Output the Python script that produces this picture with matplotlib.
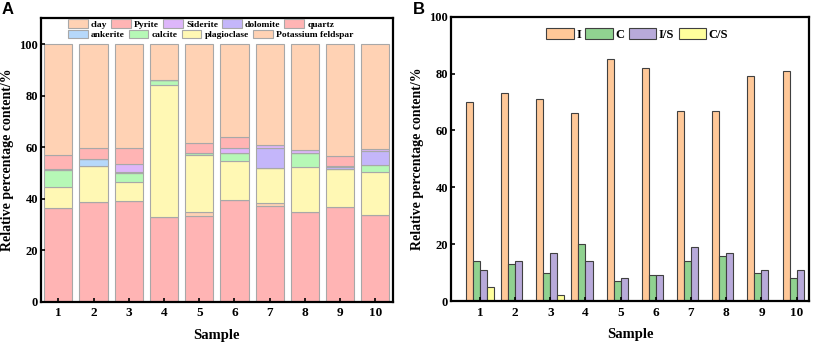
import numpy as np
import matplotlib
matplotlib.use('Agg')
import matplotlib.pyplot as plt
from matplotlib.patches import Patch

plt.rcParams['font.family'] = 'Liberation Serif'
plt.rcParams['font.weight'] = 'bold'

samples = ['1', '2', '3', '4', '5', '6', '7', '8', '9', '10']

# panel A, stacked from bottom to top
quartz = [36.4, 38.8, 38.9, 33.0, 33.2, 39.5, 37.3, 34.7, 36.8, 33.6]
kfeld = [0.0, 0.0, 0.0, 0.0, 1.5, 0.0, 1.1, 0.0, 0.0, 0.0]
plag = [8.3, 13.7, 7.4, 51.1, 22.2, 15.1, 13.4, 17.5, 14.9, 16.7]
calcite = [6.4, 0.0, 3.6, 1.9, 0.8, 3.1, 0.0, 5.5, 0.0, 2.8]
ankerite = [0.0, 2.8, 0.0, 0.0, 0.0, 0.0, 0.0, 0.0, 0.0, 0.0]
dolomite = [0.5, 0.0, 0.5, 0.0, 0.0, 0.0, 7.8, 0.0, 0.4, 5.5]
siderite = [0.0, 0.0, 3.1, 0.0, 0.0, 2.0, 1.4, 1.2, 0.4, 0.7]
pyrite = [5.2, 4.3, 6.1, 0.0, 4.0, 4.4, 0.0, 0.0, 4.1, 0.0]
clay = list(100 - np.array(quartz) - np.array(kfeld) - np.array(plag) - np.array(calcite)
            - np.array(ankerite) - np.array(dolomite) - np.array(siderite) - np.array(pyrite))

# panel B
ill = [70, 73, 71, 66, 85, 82, 67, 67, 79, 81]
chl = [14, 13, 10, 20, 7, 9, 14, 16, 10, 8]
ism = [11, 14, 17, 14, 8, 9, 19, 17, 11, 11]
csm = [5, 0, 2, 0, 0, 0, 0, 0, 0, 0]

c_clay = '#FFD2B4'
c_pink = '#FFB4B4'
c_sid = '#DDB6FA'
c_dol = '#C4B6FA'
c_ank = '#B6D8FA'
c_cal = '#B6F8B6'
c_plag = '#FFF8B4'

fig = plt.figure(figsize=(8.16, 3.43), dpi=100)
ax1 = fig.add_axes([0.0499, 0.1204, 0.4317, 0.8262])
ax2 = fig.add_axes([0.5523, 0.1224, 0.4395, 0.8289])

x = np.arange(1, 11)
layers = [(quartz, c_pink), (kfeld, c_clay), (plag, c_plag), (calcite, c_cal),
          (ankerite, c_ank), (dolomite, c_dol), (siderite, c_sid), (pyrite, c_pink), (clay, c_clay)]
bottom = np.zeros(10)
for vals, col in layers:
    ax1.bar(x, vals, 0.8, bottom=bottom, color=col, edgecolor='#A8A8A8', linewidth=0.8)
    bottom = bottom + np.array(vals)

ax1.set_xlim(0.5, 10.5)
ax1.set_ylim(0, 110)
ax1.set_yticks([0, 20, 40, 60, 80, 100])
ax1.set_xticks(x)
ax1.set_xticklabels(samples)

def leg_handles(items):
    return [Patch(facecolor=c, edgecolor='#A8A8A8', linewidth=0.8, label=l) for l, c in items]

row1 = leg_handles([('clay', c_clay), ('Pyrite', c_pink), ('Siderite', c_sid),
                    ('dolomite', c_dol), ('quartz', c_pink)])
row2 = leg_handles([('ankerite', c_ank), ('calcite', c_cal), ('plagioclase', c_plag),
                    ('Potassium feldspar', c_clay)])
kw = dict(frameon=False, handlelength=2.1, handleheight=1.0,
          handletextpad=0.35, columnspacing=0.4, borderpad=0, borderaxespad=0,
          prop={'weight': 'bold', 'size': 6.8})
leg1 = ax1.legend(handles=row1, ncol=5, loc='upper left', bbox_to_anchor=(0.077, 0.997), **kw)
ax1.add_artist(leg1)
ax1.legend(handles=row2, ncol=4, loc='upper left', bbox_to_anchor=(0.077, 0.959), **kw)

w = 0.2
ekw = dict(edgecolor='#404040', linewidth=0.8)
ax2.bar(x - 1.5 * w, ill, w, color='#FFC898', label='I', **ekw)
ax2.bar(x - 0.5 * w, chl, w, color='#90D290', label='C', **ekw)
ax2.bar(x + 0.5 * w, ism, w, color='#B8AADA', label='I/S', **ekw)
ax2.bar(x + 1.5 * w, csm, w, color='#FFFF9C', label='C/S', **ekw)
ax2.set_xlim(0.17, 10.36)
ax2.set_ylim(0, 100)
ax2.set_yticks([0, 20, 40, 60, 80, 100])
ax2.set_xticks(x)
ax2.set_xticklabels(samples)
ax2.legend(ncol=4, loc='upper center', bbox_to_anchor=(0.52, 0.96), frameon=False,
           handlelength=2.2, handleheight=1.0, handletextpad=0.2, columnspacing=0.35,
           borderpad=0, borderaxespad=0, prop={'weight': 'bold', 'size': 9})

for ax in (ax1, ax2):
    for sp in ax.spines.values():
        sp.set_linewidth(1.6)
    ax.tick_params(axis='x', direction='in', length=3, width=1.2, labelsize=9.5, pad=4)
    ax.tick_params(axis='y', direction='in', length=3, width=1.2, labelsize=9, pad=2)
    for lab in ax.get_xticklabels() + ax.get_yticklabels():
        lab.set_fontweight('bold')
    ax.set_xlabel('Sample', fontsize=10.5, fontweight='bold', labelpad=7)
    ax.set_ylabel('Relative percentage content/%', fontsize=10, fontweight='bold', labelpad=4)

fig.text(0.002, 0.995, 'A', fontsize=12, fontweight='bold', family='Liberation Sans', va='top')
fig.text(0.506, 0.995, 'B', fontsize=12, fontweight='bold', family='Liberation Sans', va='top')

plt.savefig('out.png', dpi=100)
